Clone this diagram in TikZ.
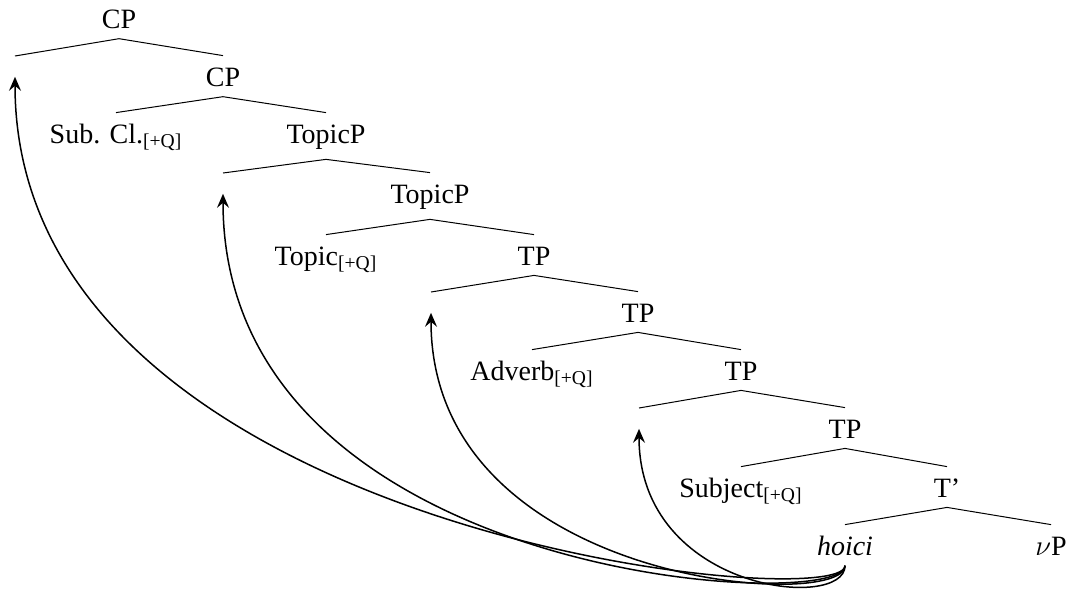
\documentclass[tikz,border=0pt]{standalone}
\usepackage{fontspec}
\setmainfont{Liberation Serif}
\usetikzlibrary{arrows.meta}
\begin{document}
\begin{tikzpicture}[x=0.5pt,y=-0.5pt,
  lab/.style={font=\fontsize{14}{16}\selectfont, inner xsep=2pt, inner ysep=5pt,
              text height=10pt, anchor=base},
  gap/.style={inner xsep=0pt, inner ysep=5pt, text height=0pt, text depth=0pt,
              minimum width=0pt, anchor=north},
  branch/.style={line width=0.5pt},
  move/.style={line width=0.75pt, -{Stealth[length=7pt,width=6pt,inset=2.5pt]}}]
\useasboundingbox (0,0) rectangle (1068,590);
% level 0
\node[lab] (cp1) at (119,28) {CP};
% level 1
\node[gap] (e1) at (15,56) {};
\node[lab] (cp2) at (223,86) {CP};
% level 2
\node[lab] (subcl) at (116,143) {Sub. Cl.\textsubscript{[+Q]}};
\node[lab] (topp1) at (326,143) {TopicP};
% level 3
\node[gap] (e2) at (223,173) {};
\node[lab] (topp2) at (430,203) {TopicP};
% level 4
\node[lab] (topic) at (326,265) {Topic\textsubscript{[+Q]}};
\node[lab] (tp1) at (534,265) {TP};
% level 5
\node[gap] (e3) at (431,292) {};
\node[lab] (tp2) at (638,322) {TP};
% level 6
\node[lab] (adverb) at (532,380) {Adverb\textsubscript{[+Q]}};
\node[lab] (tp3) at (741,380) {TP};
% level 7
\node[gap] (e4) at (639,408) {};
\node[lab] (tp4) at (845,438) {TP};
% level 8
\node[lab] (subject) at (741,497) {Subject\textsubscript{[+Q]}};
\node[lab] (tbar) at (947,497) {T’};
% level 9
\node[lab] (hoici) at (845,555) {\textit{hoici}};
\node[lab] (vp) at (1051,555) {$\nu$P};
% branches
\draw[branch] (e1.north) -- (cp1.south) -- (cp2.north);
\draw[branch] (subcl.north) -- (cp2.south) -- (topp1.north);
\draw[branch] (e2.north) -- (topp1.south) -- (topp2.north);
\draw[branch] (topic.north) -- (topp2.south) -- (tp1.north);
\draw[branch] (e3.north) -- (tp1.south) -- (tp2.north);
\draw[branch] (adverb.north) -- (tp2.south) -- (tp3.north);
\draw[branch] (e4.north) -- (tp3.south) -- (tp4.north);
\draw[branch] (subject.north) -- (tp4.south) -- (tbar.north);
\draw[branch] (hoici.north) -- (tbar.south) -- (vp.north);
% movement arrows
\draw[move] (hoici.south) .. controls +(0,50) and +(0,460) .. (e1.south);
\draw[move] (hoici.south) .. controls +(0,48) and +(0,390) .. (e2.south);
\draw[move] (hoici.south) .. controls +(0,46) and +(0,274) .. (e3.south);
\draw[move] (hoici.south) .. controls +(0,46) and +(0,163) .. (e4.south);
\end{tikzpicture}
\end{document}
